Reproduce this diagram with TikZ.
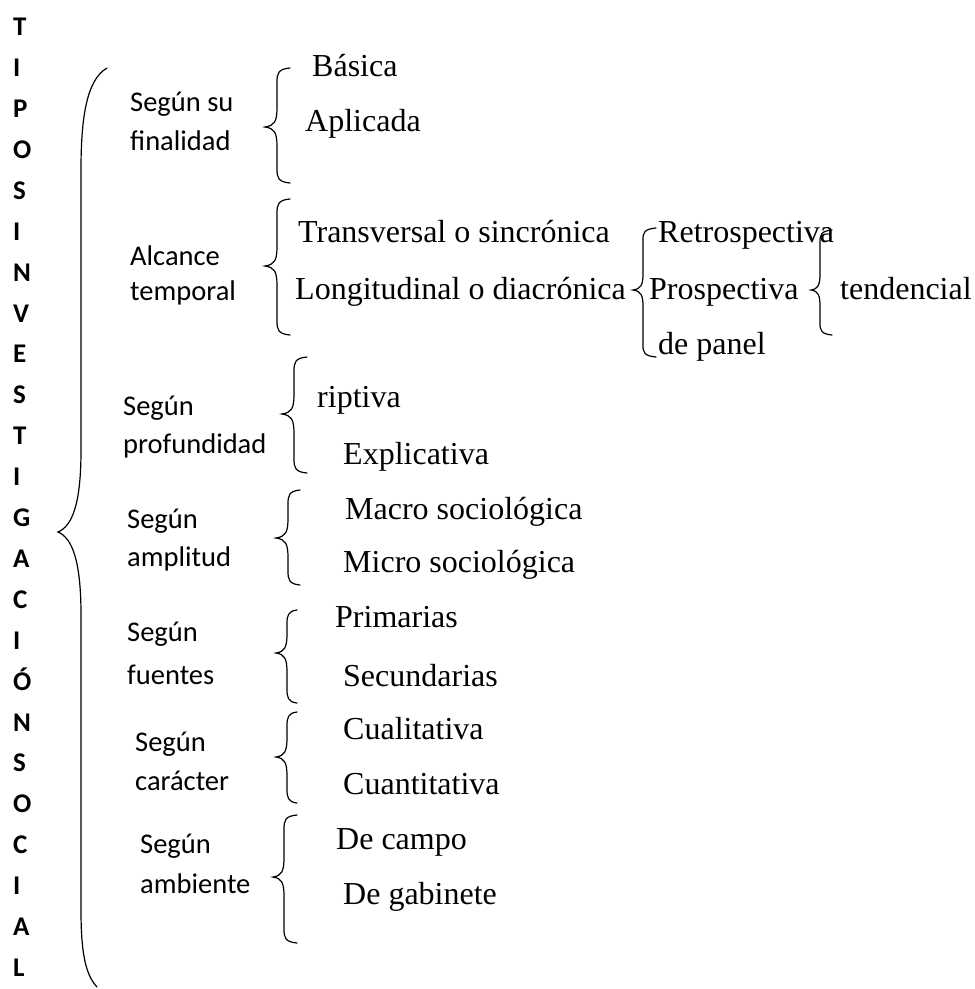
\documentclass[tikz,border=0pt]{standalone}
\usepackage{fontspec}
\setmainfont{Liberation Serif}
\newfontfamily\carlito{Carlito}
\usetikzlibrary{positioning}

% llave: xh, xv, xt, ytop, ytip, ybottom, radio
\newcommand{\llave}[7]{%
\draw[llavelinea] (#1,#4) .. controls (#2+1,#4+1) and (#2,#4+0.4*#7) .. (#2,#4+#7)
  -- (#2,#5-1.4*#7) .. controls (#2,#5-0.4*#7) and (#2-0.2*#2+0.2*#3,#5-0.1*#7) .. (#3,#5)
  .. controls (#2-0.2*#2+0.2*#3,#5+0.1*#7) and (#2,#5+0.4*#7) .. (#2,#5+1.4*#7)
  -- (#2,#6-#7) .. controls (#2,#6-0.4*#7) and (#2+1,#6-1) .. (#1,#6);}

\begin{document}
\begin{tikzpicture}[x=1pt,y=-1pt,
  llavelinea/.style={line width=1.2pt,line cap=round},
  letra/.style={anchor=base west,inner sep=0pt,font=\carlito\bfseries\fontsize{27}{30}\selectfont},
  categ/.style={anchor=base west,inner sep=0pt,font=\carlito\fontsize{28.5}{32}\selectfont},
  tipo/.style={anchor=base west,inner sep=0pt,font=\fontsize{32}{36}\selectfont}]
\useasboundingbox (0,0) rectangle (975,989);

\foreach \l [count=\i from 0] in {T,I,P,O,S,I,N,V,E,S,T,I,G,A,C,I,Ó,N,S,O,C,I,A,L}
  \node[letra] (l\i) at (13,27+\i*40.9+8.7) {\l};

% llave grande
\draw[llavelinea] (107,68) .. controls (86,80) and (81,120) .. (81,170) -- (81,450)
  .. controls (81,505) and (72,526) .. (58,532) .. controls (72,538) and (81,560) .. (81,615)
  -- (81,910) .. controls (81,955) and (86,975) .. (97,987);

% categorias
\node[categ] (fin1) at (130,111) {Según su};
\node[categ] (fin2) at (130,150) {finalidad};
\node[categ] (alc1) at (130,265) {Alcance};
\node[categ] (alc2) at (130,300) {temporal};
\node[categ] (pro1) at (123,415) {Según};
\node[categ] (pro2) at (123,453) {profundidad};
\node[categ] (amp1) at (127,528) {Según};
\node[categ] (amp2) at (127,566) {amplitud};
\node[categ] (fue1) at (127,641) {Según};
\node[categ] (fue2) at (127,684) {fuentes};
\node[categ] (car1) at (135,751) {Según};
\node[categ] (car2) at (135,790) {carácter};
\node[categ] (amb1) at (140,853) {Según};
\node[categ] (amb2) at (140,893) {ambiente};

% llaves secundarias
\llave{290}{277}{265}{68}{127}{183}{14}
\llave{290}{277}{265}{199}{266}{335}{14}
\llave{307}{294}{282}{357}{414}{473}{14}
\llave{300}{288}{276}{490}{538}{585}{14}
\llave{297}{287}{276}{610}{653}{703}{14}
\llave{297}{287}{276}{712}{757}{803}{14}
\llave{297}{284}{273}{815}{877}{943}{14}
\llave{656}{643}{633}{228}{290}{357}{12}
\llave{832}{820}{811}{230}{290}{335}{12}

% tipos
\node[tipo] (bas) at (312,76) {Básica};
\node[tipo] (apl) at (305,131) {Aplicada};
\node[tipo] (tra) at (298,242) {Transversal o sincrónica};
\node[tipo] (lon) at (295,299) {Longitudinal o diacrónica};
\node[tipo] (des) at (317,407) {riptiva};
\node[tipo] (exp) at (343,464) {Explicativa};
\node[tipo] (mac) at (345,519) {Macro sociológica};
\node[tipo] (mic) at (343,572) {Micro sociológica};
\node[tipo] (pri) at (335,627) {Primarias};
\node[tipo] (sec) at (343,686) {Secundarias};
\node[tipo] (cua) at (343,739) {Cualitativa};
\node[tipo] (cun) at (343,794) {Cuantitativa};
\node[tipo] (cam) at (336,849) {De campo};
\node[tipo] (gab) at (343,904) {De gabinete};
\node[tipo] (ret) at (658,242) {Retrospectiva};
\node[tipo] (pros) at (649,299) {Prospectiva};
\node[tipo] (pan) at (658,354) {de panel};
\node[tipo] (ten) at (840,299) {tendencial};
\end{tikzpicture}
\end{document}
